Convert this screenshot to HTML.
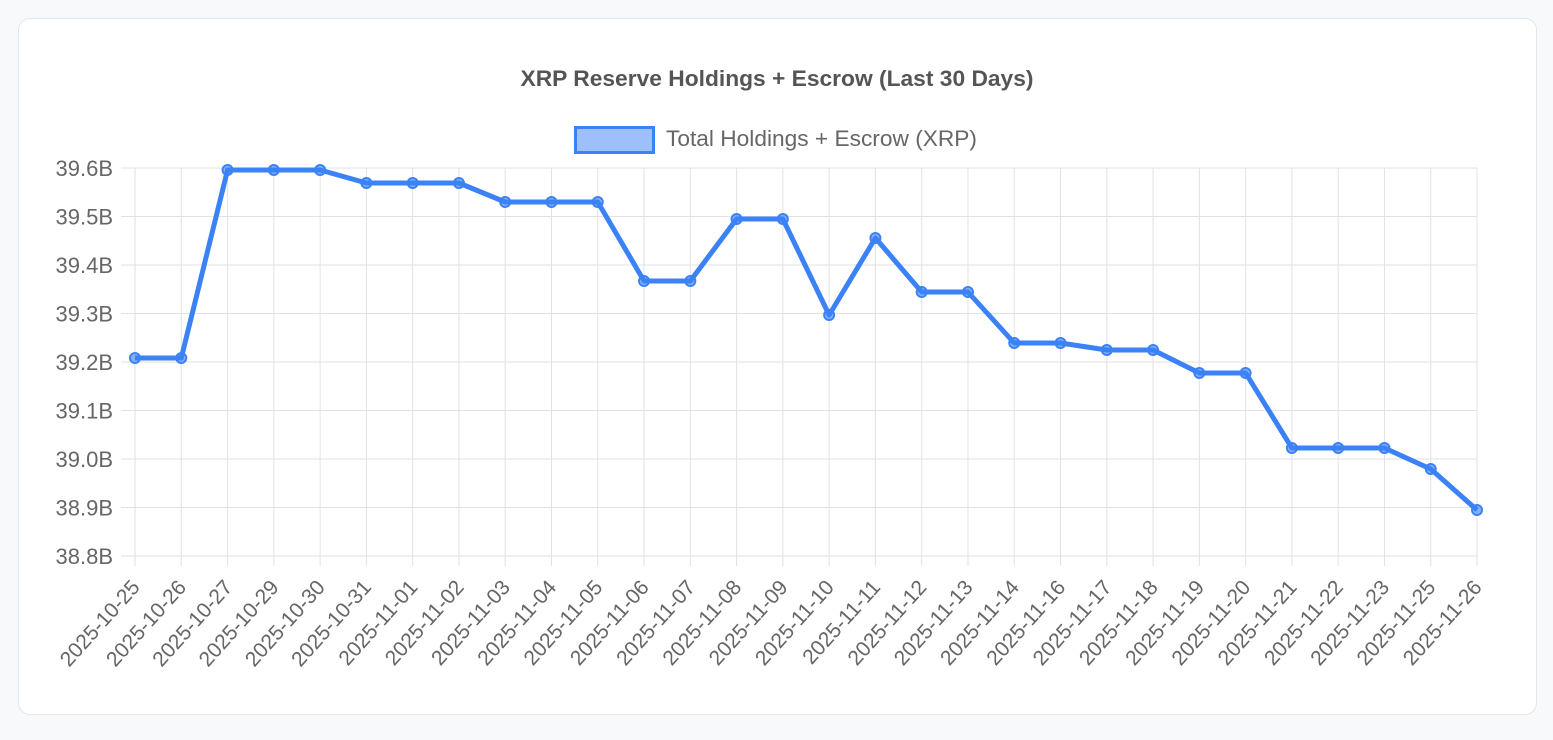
<!DOCTYPE html>
<html><head><meta charset="utf-8"><style>
html,body{margin:0;padding:0;background:#f8f9fb;width:1553px;height:740px;overflow:hidden}
.card{position:absolute;left:18px;top:18px;width:1519px;height:697px;background:#fff;border:1px solid #e3e6ea;border-radius:12px;box-sizing:border-box}
svg{position:absolute;left:0;top:0}
text{font-family:"Liberation Sans",Arial,sans-serif}
</style></head><body>
<div class="card"></div>
<svg width="1553" height="740" xmlns="http://www.w3.org/2000/svg">
<text x="777" y="86" text-anchor="middle" font-size="22" font-weight="bold" fill="#555" textLength="513" lengthAdjust="spacingAndGlyphs">XRP Reserve Holdings + Escrow (Last 30 Days)</text>
<rect x="575.5" y="127.5" width="78" height="25" fill="rgba(59,130,246,0.5)" stroke="#3b82f6" stroke-width="3"/>
<text x="666" y="146" font-size="22" fill="#666" textLength="311" lengthAdjust="spacingAndGlyphs">Total Holdings + Escrow (XRP)</text>
<g id="grid" stroke="#e2e2e2" stroke-width="1"></g>
<g id="ylab" font-size="22" fill="#666" text-anchor="end"></g>
<g id="xlab" font-size="21" fill="#666" text-anchor="end"></g>
<polyline id="line" fill="none" stroke="#3b82f6" stroke-width="5" stroke-linejoin="round"/>
<g id="pts" fill="rgba(59,130,246,0.6)" stroke="#3b82f6" stroke-width="2"></g>
</svg>
<script>
var ns="http://www.w3.org/2000/svg";
function el(t,a,p,txt){var e=document.createElementNS(ns,t);for(var k in a)e.setAttribute(k,a[k]);if(txt)e.textContent=txt;document.getElementById(p).appendChild(e);return e;}
var labels=["2025-10-25","2025-10-26","2025-10-27","2025-10-29","2025-10-30","2025-10-31","2025-11-01","2025-11-02","2025-11-03","2025-11-04","2025-11-05","2025-11-06","2025-11-07","2025-11-08","2025-11-09","2025-11-10","2025-11-11","2025-11-12","2025-11-13","2025-11-14","2025-11-16","2025-11-17","2025-11-18","2025-11-19","2025-11-20","2025-11-21","2025-11-22","2025-11-23","2025-11-25","2025-11-26"];
var ys=[358,358,170,170,170,183,183,183,202,202,202,281,281,219,219,315,238,292,292,343,343,350,350,373,373,448,448,448,469,510];
var x0=135,x1=1477,yt=168,yb=556,step=(x1-x0)/29;
var yl=["39.6B","39.5B","39.4B","39.3B","39.2B","39.1B","39.0B","38.9B","38.8B"];
for(var i=0;i<9;i++){var y=yt+i*(yb-yt)/8;el("line",{x1:121,x2:x1,y1:y,y2:y},"grid");el("text",{x:113,y:y+8},"ylab",yl[i]);}
var pts=[];
for(var i=0;i<30;i++){var x=x0+i*step;el("line",{x1:x,x2:x,y1:yt,y2:yb+10},"grid");
var tx=x+6,ty=588;el("text",{x:tx,y:ty,transform:"rotate(-48 "+tx+" "+ty+")"},"xlab",labels[i]);
pts.push(x+","+ys[i]);el("circle",{cx:x,cy:ys[i],r:5},"pts");}
document.getElementById("line").setAttribute("points",pts.join(" "));
</script>
</body></html>
